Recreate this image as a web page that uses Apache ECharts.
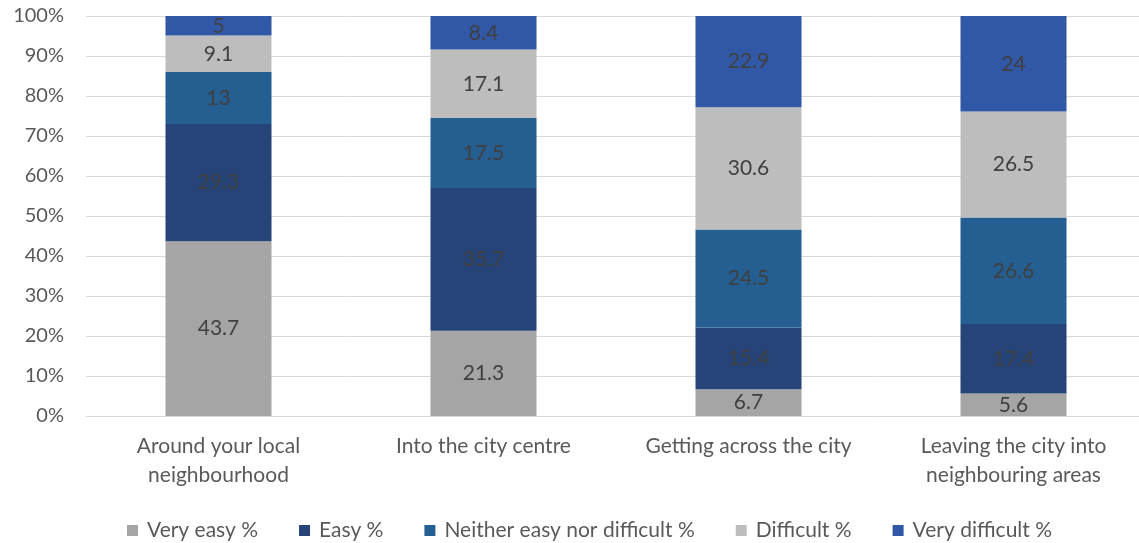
<!DOCTYPE html>
<html>
<head>
<meta charset="utf-8">
<script src="https://cdn.jsdelivr.net/npm/echarts@6/dist/echarts.min.js"></script>
<style>
  html, body { margin: 0; padding: 0; background: #fff; }
  #chart { width: 1139px; height: 543px; }
</style>
</head>
<body>
<div id="chart"></div>
<script>
// categories and values
const categories = [
    'Around your local\nneighbourhood',
    'Into the city centre',
    'Getting across the city',
    'Leaving the city into\nneighbouring areas'
];
const veryEasy = [43.7, 21.3, 6.7, 5.6];
const easy = [29.3, 35.7, 15.4, 17.4];
const neither = [13, 17.5, 24.5, 26.6];
const difficult = [9.1, 17.1, 30.6, 26.5];
const veryDifficult = [5, 8.4, 22.9, 24];

const seriesNames = ['Very easy %', 'Easy %', 'Neither easy nor difficult %', 'Difficult %', 'Very difficult %'];
const seriesColors = ['#A5A5A5', '#264478', '#255E91', '#BDBDBD', '#3158A6'];
const seriesData = [veryEasy, easy, neither, difficult, veryDifficult];

const font = 'Lato';

const chart = echarts.init(document.getElementById('chart'));

const option = {
    backgroundColor: '#fff',
    animation: false,
    textStyle: { fontFamily: font },
    grid: { left: 86, top: 16, width: 1060, height: 400, containLabel: false, outerBoundsMode: 'none' },
    legend: {
        top: 515,
        left: 122,
        itemWidth: 11,
        itemHeight: 11,
        itemGap: 41,
        icon: 'rect',
        textStyle: { fontFamily: font, fontSize: 21, color: '#595959', padding: [0, 0, 0, 4] },
        data: seriesNames
    },
    xAxis: {
        type: 'category',
        data: categories,
        axisTick: { show: false },
        axisLine: { lineStyle: { color: '#D9D9D9', width: 1 } },
        axisLabel: {
            fontFamily: font, fontSize: 21, color: '#595959',
            lineHeight: 29, margin: 16, interval: 0
        }
    },
    yAxis: {
        type: 'value',
        min: 0,
        max: 100,
        interval: 10,
        axisLine: { show: false },
        axisTick: { show: false },
        splitLine: { lineStyle: { color: '#D9D9D9', width: 1 } },
        axisLabel: {
            fontFamily: font, fontSize: 20, color: '#595959', margin: 22,
            formatter: v => v + '%'
        }
    },
    series: seriesNames.map((name, i) => ({
        name: name,
        type: 'bar',
        stack: 'total',
        barWidth: '40%',
        data: seriesData[i],
        itemStyle: { color: seriesColors[i] },
        label: {
            show: true,
            position: 'inside',
            fontFamily: font,
            fontSize: 21,
            color: '#404040'
        }
    }))
};

chart.setOption(option);
</script>
</body>
</html>
